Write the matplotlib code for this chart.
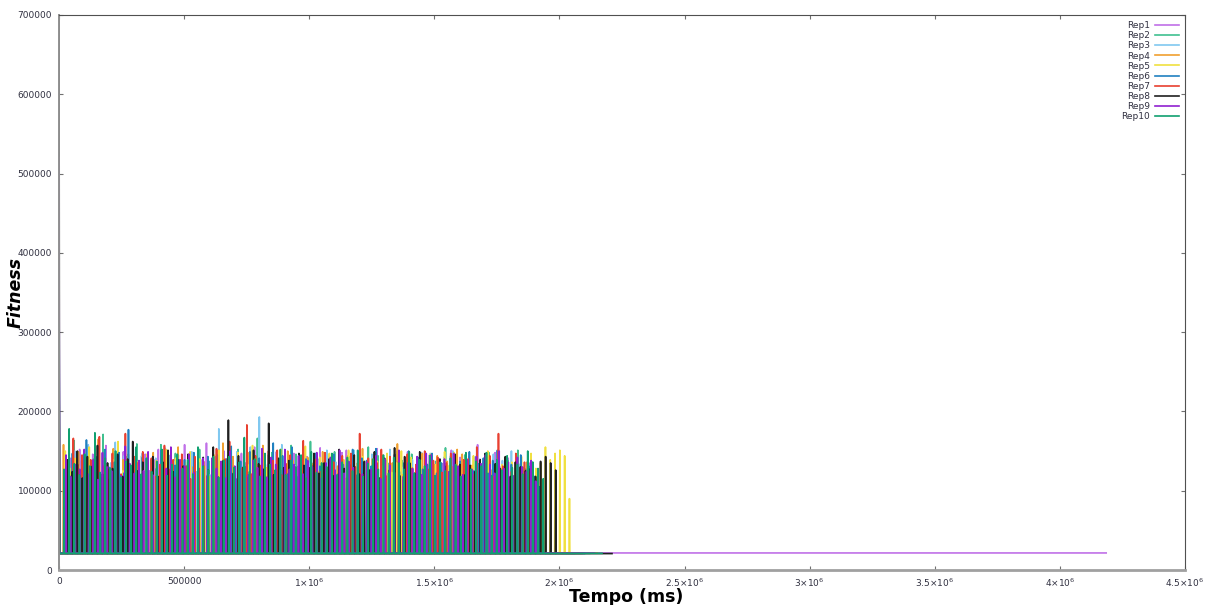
#!/usr/bin/env python3
"""Fitness vs. time for 10 repetitions (gnuplot-style line plot)."""

import matplotlib
matplotlib.use("Agg")
import matplotlib.pyplot as plt
import numpy as np

labels = [f"Rep{i}" for i in range(1, 11)]
colors = ["#c070e8", "#40c090", "#80c8f0", "#f0a030", "#f0e040",
          "#2080c0", "#e84030", "#202020", "#9020d0", "#10a070"]

# fitness at t=0 (before the first evaluation settles)
start_fitness = [410000, 350000, 380000, 290000, 260000,
                 450000, 330000, 760000, 520000, 310000]

# resting fitness level between the peaks
base_fitness = [21500, 21000, 20800, 21200, 21000,
                20900, 21100, 20700, 21300, 21000]

# first / last peak time (ms) and end of the run (ms)
peak_first = [30000, 22000, 27000, 18000, 25000, 35000, 40000, 33000, 28000, 20000]
peak_last = [1900000, 1930000, 1880000, 1910000, 2040000,
             1920000, 1895000, 1985000, 1905000, 1935000]
run_end = [4185000, 2120000, 2060000, 2150000, 2080000,
           2100000, 2090000, 2210000, 2140000, 2170000]

# peak fitness values, in thousands
peaks_k = [
    [128, 141, 117, 152, 133, 109, 146, 138, 121, 157, 130, 144, 112, 149, 136, 125,
     133, 118, 146, 125, 139, 152, 121, 137, 114, 144, 129, 158, 123, 141, 117, 135,
     160, 118, 143, 131, 150, 122, 139, 114, 147, 135, 127, 155, 119, 142, 133, 108,
     149, 126, 138, 112, 147, 131, 120, 143, 136, 127, 154, 119, 140, 132, 125, 148,
     151, 137, 124, 146, 116, 140, 129, 153, 121, 138, 111, 145, 132, 126, 149, 134,
     116, 137, 129, 145, 122, 139, 134, 118, 151, 128, 142, 121,
     143, 120, 158, 127, 136, 115, 148, 131, 124, 141, 118, 137, 129, 122, 135, 97],
    [135, 122, 163, 118, 147, 129, 140, 112, 171, 126, 138, 150, 117, 143, 131, 159,
     144, 127, 139, 116, 158, 132, 121, 147, 135, 124, 141, 113, 152, 129, 137, 119,
     120, 136, 145, 109, 152, 128, 141, 119, 166, 133, 124, 148, 115, 139, 130, 157,
     146, 126, 134, 162, 121, 140, 128, 117, 149, 133, 125, 143, 118, 138, 131, 155,
     121, 144, 127, 135, 113, 150, 138, 123, 146, 118, 132, 142, 110, 137, 125, 154,
     122, 136, 127, 145, 114, 141, 130, 123, 148, 120, 135, 128,
     138, 114, 151, 130, 124, 136, 119, 104],
    [142, 119, 150, 131, 126, 158, 114, 139, 147, 122, 135, 161, 117, 144, 129, 153,
     126, 147, 133, 118, 141, 129, 154, 121, 137, 145, 116, 132, 149, 124, 139, 127,
     120, 137, 178, 125, 141, 116, 149, 132, 123, 155, 138, 193, 127, 145, 118, 134,
     158, 119, 143, 131, 122, 146, 135, 117, 140, 128, 151, 123, 136, 144, 115, 138,
     151, 121, 140, 128, 146, 115, 136, 124, 152, 119, 143, 130, 112, 139, 126, 148,
     129, 147, 121, 134, 142, 126, 150, 118, 137, 131, 124, 143,
     140, 117, 135, 146, 124, 138, 129, 150, 118, 134, 127, 101],
    [158, 112, 137, 149, 124, 141, 118, 165, 130, 127, 153, 115, 139, 146, 121, 134,
     137, 124, 148, 119, 133, 141, 127, 155, 116, 139, 130, 146, 122, 136, 128, 151,
     160, 119, 143, 128, 111, 148, 136, 124, 157, 117, 142, 131, 126, 150, 138, 113,
     118, 142, 134, 125, 149, 121, 138, 131, 117, 144, 127, 135, 153, 120, 140, 129,
     145, 122, 135, 159, 120, 141, 129, 116, 147, 133, 125, 144, 118, 137, 130, 152,
     146, 123, 132, 139, 115, 148, 126, 137, 130, 143, 119, 134,
     127, 136, 122, 108],
    [150, 128, 141, 117, 134, 155, 122, 146, 130, 113, 139, 162, 125, 143, 118, 136,
     129, 146, 121, 138, 133, 152, 117, 141, 127, 136, 149, 124, 140, 131, 118, 145,
     151, 127, 140, 121, 148, 116, 133, 157, 124, 142, 129, 138, 114, 152, 126, 145,
     128, 137, 156, 122, 134, 142, 119, 147, 130, 125, 139, 151, 116, 135, 143, 127,
     119, 137, 131, 147, 123, 135, 150, 117, 142, 128, 139, 121, 146, 133, 125, 149,
     132, 148, 121, 138, 129, 144, 123, 136, 150, 126, 140, 133,
     118, 136, 130, 143, 122, 147, 128, 135, 155, 139, 147, 151, 144, 90],
    [131, 147, 120, 138, 164, 125, 143, 117, 152, 129, 136, 148, 122, 177, 133, 119,
     142, 119, 136, 128, 151, 123, 145, 132, 117, 139, 126, 148, 121, 137, 143, 129,
     145, 127, 140, 156, 115, 137, 130, 149, 123, 141, 118, 134, 160, 126, 144, 121,
     155, 118, 134, 140, 124, 147, 131, 122, 138, 146, 115, 133, 128, 152, 120, 141,
     138, 131, 153, 116, 139, 128, 146, 124, 135, 150, 119, 142, 127, 133, 147, 122,
     135, 126, 144, 119, 137, 130, 149, 125, 134, 141, 122, 138,
     151, 124, 140, 133, 119, 145, 127, 131, 118, 105],
    [122, 166, 133, 145, 118, 139, 126, 168, 131, 114, 147, 137, 121, 172, 128, 143,
     136, 149, 124, 141, 118, 133, 157, 127, 139, 122, 146, 131, 115, 143, 128, 137,
     119, 135, 153, 124, 140, 162, 117, 136, 129, 183, 121, 144, 132, 125, 150, 138,
     151, 120, 134, 145, 126, 139, 163, 118, 132, 140, 124, 148, 129, 136, 121, 144,
     116, 147, 130, 172, 123, 141, 127, 135, 152, 119, 143, 129, 137, 113, 146, 128,
     133, 117, 150, 127, 138, 142, 123, 135, 147, 120, 131, 139,
     140, 121, 155, 133, 126, 144, 118, 172, 131, 139, 124, 147, 129, 136, 124, 110],
    [139, 124, 150, 116, 143, 131, 157, 121, 135, 128, 146, 118, 140, 162, 125, 136,
     127, 143, 118, 136, 151, 124, 139, 131, 146, 120, 134, 142, 126, 155, 117, 138,
     189, 122, 144, 130, 117, 151, 134, 127, 185, 120, 141, 129, 138, 115, 147, 132,
     129, 147, 122, 135, 140, 119, 152, 128, 133, 145, 121, 137, 126, 149, 116, 141,
     126, 154, 119, 143, 135, 122, 149, 128, 137, 116, 140, 131, 124, 146, 133, 120,
     132, 124, 139, 147, 120, 134, 128, 143, 118, 136, 130, 125,
     128, 118, 137, 143, 135, 126],
    [145, 118, 133, 127, 152, 121, 139, 114, 148, 130, 125, 143, 119, 156, 134, 122,
     138, 125, 149, 120, 134, 143, 128, 155, 117, 139, 131, 146, 123, 136, 141, 119,
     141, 128, 137, 116, 150, 131, 124, 146, 120, 138, 129, 153, 117, 142, 133, 126,
     152, 127, 133, 144, 121, 138, 130, 148, 116, 135, 142, 126, 151, 122, 137, 129,
     149, 121, 136, 127, 144, 115, 140, 132, 123, 151, 118, 135, 128, 143, 120, 147,
     145, 118, 133, 140, 124, 147, 131, 120, 139, 127, 143, 134,
     145, 133, 122, 150, 128, 136, 119, 142, 130, 124, 138, 112],
    [127, 178, 134, 120, 146, 131, 173, 123, 141, 128, 150, 117, 137, 132, 155, 121,
     141, 124, 137, 152, 119, 133, 146, 128, 139, 121, 155, 131, 126, 143, 117, 138,
     143, 129, 136, 167, 124, 140, 118, 147, 133, 126, 152, 120, 138, 130, 145, 116,
     149, 123, 135, 130, 147, 120, 136, 142, 125, 151, 118, 134, 140, 127, 145, 122,
     142, 135, 127, 149, 122, 139, 131, 144, 119, 136, 125, 141, 133, 118, 148, 127,
     137, 131, 148, 119, 139, 126, 144, 129, 133, 121, 150, 136,
     128, 115],
]

SPIKE_HALF_WIDTH = 1500  # ms either side of a peak


def build_trace(i):
    base = base_fitness[i]
    ts = [0.0, 2000.0]
    vs = [start_fitness[i], base]
    peak_times = np.linspace(peak_first[i], peak_last[i], len(peaks_k[i]))
    for t, h in zip(peak_times, peaks_k[i]):
        ts += [t - SPIKE_HALF_WIDTH, t, t + SPIKE_HALF_WIDTH]
        vs += [base, h * 1000, base]
    ts.append(run_end[i])
    vs.append(base)
    return ts, vs


fig = plt.figure(figsize=(12.07, 6.05), dpi=100)
ax = fig.add_axes([59 / 1207, 1 - 570 / 605, 1126 / 1207, 555 / 605])

for i, name in enumerate(labels):
    ts, vs = build_trace(i)
    ax.plot(ts, vs, color=colors[i], linewidth=1.2, label=name)

ax.set_xlim(0, 4.5e6)
ax.set_ylim(0, 700000)

xticks = [0, 500000, 1e6, 1.5e6, 2e6, 2.5e6, 3e6, 3.5e6, 4e6, 4.5e6]
xticklabels = ["0", "500000", "1×10$^{6}$", "1.5×10$^{6}$", "2×10$^{6}$",
               "2.5×10$^{6}$", "3×10$^{6}$", "3.5×10$^{6}$", "4×10$^{6}$",
               "4.5×10$^{6}$"]
ax.set_xticks(xticks)
ax.set_xticklabels(xticklabels)
ax.set_yticks(np.arange(0, 700001, 100000))
ax.set_yticklabels([str(v) for v in range(0, 700001, 100000)])

ax.tick_params(direction="in", length=3, width=0.8, color="#707070",
               labelsize=6.5, labelcolor="#303040", top=True, right=True, pad=5)

for side in ("top", "right"):
    ax.spines[side].set_color("#505050")
    ax.spines[side].set_linewidth(0.8)
ax.spines["left"].set_color("#909090")
ax.spines["left"].set_linewidth(1.4)
ax.spines["bottom"].set_color("#a0a0a0")
ax.spines["bottom"].set_linewidth(2.0)

leg = ax.legend(loc="upper right", markerfirst=False, frameon=False,
                fontsize=6.5, handlelength=2.6, handletextpad=0.6,
                labelspacing=0.12, borderaxespad=0.5, borderpad=0.2)
for line in leg.get_lines():
    line.set_linewidth(1.2)
for text in leg.get_texts():
    text.set_color("#303040")

fig.text(626 / 1207, 1 - 588 / 605, "Tempo (ms)", ha="center", va="top",
         fontsize=12.5, fontweight="bold")
fig.text(16 / 1207, 1 - 292 / 605, "Fitness", ha="center", va="center",
         rotation=90, fontsize=12.5, fontweight="bold", fontstyle="italic")

fig.savefig("out.png", dpi=100)
